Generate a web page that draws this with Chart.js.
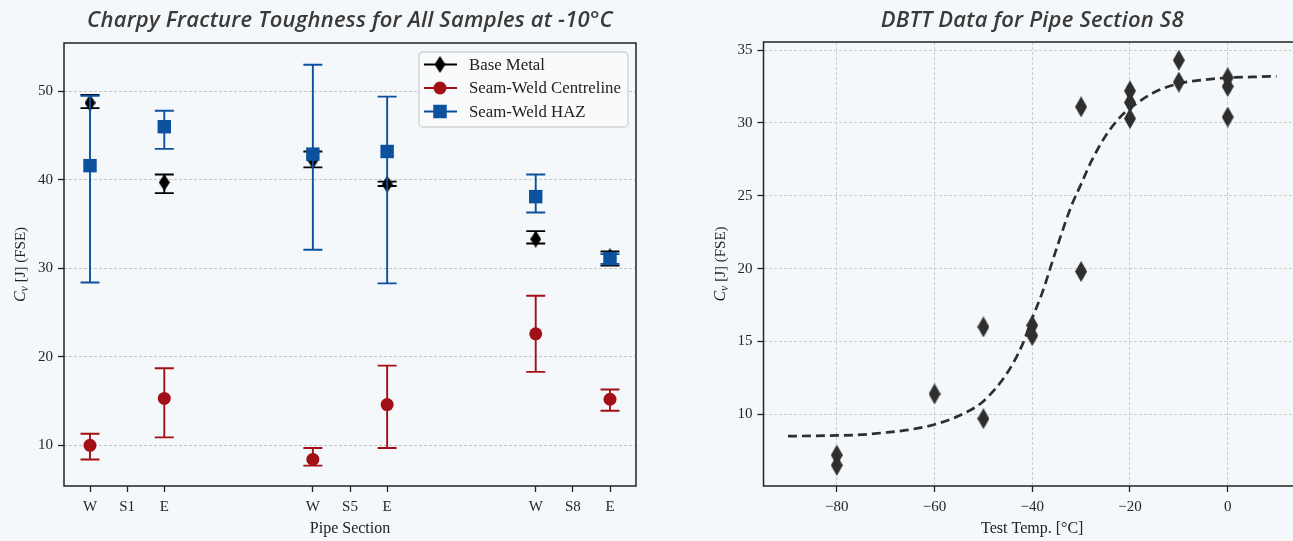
<!DOCTYPE html>
<html><head><meta charset="utf-8">
<script src="https://cdn.jsdelivr.net/npm/chart.js@4.4.0/dist/chart.umd.min.js"></script>
<style>
html,body{margin:0;padding:0;background:#f5f8fa;width:1293px;height:541px;overflow:hidden;position:relative}
#c1{position:absolute;left:0;top:0}
#c2{position:absolute;left:660px;top:0}
</style></head><body>
<canvas id="c1" width="660" height="541"></canvas>
<canvas id="c2" width="700" height="541"></canvas>
<script>
// ---------- Left chart data ----------
const sectionPositions = [0,1,2,6,7,8,12,13,14];
const sectionLabels = ['W','S1','E','W','S5','E','W','S8','E'];
const samplePositions = [0,2,6,8,12,14];
const baseMetal      = [48.7,39.7,42.2,39.5,33.3,31.3];
const baseMetalLow   = [48.1,38.5,41.4,39.3,32.8,30.3];
const baseMetalHigh  = [49.6,40.6,43.2,39.8,34.2,31.9];
const centreline     = [10.0,15.3,8.4,14.6,22.6,15.2];
const centrelineLow  = [8.4,10.9,7.7,9.7,18.3,13.9];
const centrelineHigh = [11.3,18.7,9.7,19.0,26.9,16.3];
const haz            = [41.6,46.0,42.9,43.2,38.1,31.1];
const hazLow         = [28.4,43.5,32.1,28.3,36.3,30.5];
const hazHigh        = [49.5,47.8,53.0,49.4,40.6,31.6];
const leftYTicks = [10,20,30,40,50];
const seriesNames = ['Base Metal','Seam-Weld Centreline','Seam-Weld HAZ'];

// ---------- Right chart data ----------
const testTemps = [-80,-80,-60,-50,-50,-40,-40,-30,-30,-20,-20,-20,-10,-10,0,0,0];
const cvValues  = [7.2,6.5,11.4,16.0,9.7,16.1,15.4,31.1,19.8,32.2,31.4,30.3,34.3,32.8,33.1,32.5,30.4];
const fitTemps = [-90,-85,-80,-75,-70,-65,-60,-55,-50,-45,-42,-40,-38,-35,-32,-30,-28,-25,-22,-20,-15,-10,-5,0,5,10];
const fitCv    = [8.5,8.52,8.55,8.6,8.75,8.95,9.3,9.9,10.9,12.9,14.8,16.6,18.3,21.4,24.3,25.8,27.3,29.1,30.4,31.0,32.1,32.7,32.95,33.1,33.15,33.2];
const rightXTicks = [-80,-60,-40,-20,0];
const rightYTicks = [10,15,20,25,30,35];

const RED = '#a30f17', BLUE = '#0b519d', BLACK = '#000000', DARK = '#2e2e2e';
const SERIF = '"Liberation Serif", "DejaVu Serif", serif';
const TICKFONT = {family: SERIF, size: 15};
const TICKCOLOR = '#262626';

function diamondCanvas(w, h, color) {
  const c = document.createElement('canvas');
  c.width = w; c.height = h;
  const g = c.getContext('2d');
  g.fillStyle = color;
  g.beginPath();
  g.moveTo(w/2, 0); g.lineTo(w, h/2); g.lineTo(w/2, h); g.lineTo(0, h/2);
  g.closePath(); g.fill();
  return c;
}
const dLeft = diamondCanvas(11, 17, BLACK);
const dRight = diamondCanvas(12, 21, DARK);

function pts(xs, ys) { return xs.map((x, i) => ({x: x, y: ys[i]})); }

const errorBars = {
  id: 'errorBars',
  beforeDatasetDraw(chart, args) {
    const ds = chart.data.datasets[args.index];
    if (!ds.errLow) return;
    const xs = chart.scales.x, ys = chart.scales.y, ctx = chart.ctx;
    ctx.save();
    ctx.strokeStyle = ds.borderColor; ctx.lineWidth = 1.9;
    ds.data.forEach((p, i) => {
      const x = xs.getPixelForValue(p.x);
      const yl = ys.getPixelForValue(ds.errLow[i]);
      const yh = ys.getPixelForValue(ds.errHigh[i]);
      ctx.beginPath();
      ctx.moveTo(x, yl); ctx.lineTo(x, yh);
      ctx.moveTo(x - 9.5, yl); ctx.lineTo(x + 9.5, yl);
      ctx.moveTo(x - 9.5, yh); ctx.lineTo(x + 9.5, yh);
      ctx.stroke();
    });
    ctx.restore();
  }
};

function drawYLabel(ctx, x, yc) {
  ctx.save();
  ctx.translate(x, yc);
  ctx.rotate(-Math.PI/2);
  ctx.fillStyle = '#222';
  ctx.textBaseline = 'alphabetic';
  ctx.textAlign = 'left';
  const f1 = 'italic 16px ' + SERIF, f2 = 'italic 12px ' + SERIF, f3 = '15px ' + SERIF;
  ctx.font = f1; const w1 = ctx.measureText('C').width;
  ctx.font = f2; const w2 = ctx.measureText('v').width;
  ctx.font = f3; const w3 = ctx.measureText(' [J] (FSE)').width;
  let s = -(w1 + w2 + w3)/2;
  ctx.font = f1; ctx.fillText('C', s, 5); s += w1;
  ctx.font = f2; ctx.fillText('v', s, 8); s += w2;
  ctx.font = f3; ctx.fillText(' [J] (FSE)', s, 5);
  ctx.restore();
}

const decor = {
  id: 'decor',
  afterDraw(chart, args, opts) {
    const ctx = chart.ctx, a = chart.chartArea;
    ctx.save();
    ctx.strokeStyle = '#222'; ctx.lineWidth = 1.5;
    ctx.strokeRect(a.left, a.top, a.right - a.left, a.bottom - a.top);
    ctx.fillStyle = '#3a3a3a';
    ctx.font = 'italic 600 22px "Open Sans", Lato, sans-serif';
    ctx.letterSpacing = '0.2px';
    ctx.textAlign = 'center'; ctx.textBaseline = 'middle';
    ctx.fillText(opts.title, (a.left + a.right)/2, 21);
    ctx.letterSpacing = '0px';
    ctx.fillStyle = '#222';
    ctx.font = '16px ' + SERIF;
    ctx.fillText(opts.xlabel, (a.left + a.right)/2, 529);
    ctx.restore();
    drawYLabel(ctx, opts.ylabelX, (a.top + a.bottom)/2);
    if (opts.legend) {
      ctx.save();
      const L = 419, T = 52, R = 628, B = 127;
      ctx.fillStyle = 'rgba(248,250,251,0.85)';
      ctx.strokeStyle = '#cfcfcf'; ctx.lineWidth = 1.3;
      ctx.beginPath(); ctx.roundRect(L, T, R - L, B - T, 4); ctx.fill(); ctx.stroke();
      const rows = [64.5, 88, 111.5];
      const cols = [BLACK, RED, BLUE];
      rows.forEach((y, i) => {
        ctx.strokeStyle = cols[i]; ctx.lineWidth = 2;
        ctx.beginPath(); ctx.moveTo(424, y); ctx.lineTo(457, y); ctx.stroke();
        ctx.fillStyle = cols[i];
        if (i === 0) ctx.drawImage(dLeft, 440 - 5.5, y - 8.5);
        else if (i === 1) { ctx.beginPath(); ctx.arc(440, y, 6.5, 0, Math.PI*2); ctx.fill(); }
        else ctx.fillRect(440 - 6.75, y - 6.75, 13.5, 13.5);
        ctx.fillStyle = '#222'; ctx.font = '16.8px ' + SERIF;
        ctx.textAlign = 'left'; ctx.textBaseline = 'middle';
        ctx.fillText(seriesNames[i], 469, y + 1);
      });
      ctx.restore();
    }
  }
};

Chart.defaults.font.family = SERIF;

new Chart(document.getElementById('c1'), {
  type: 'scatter',
  data: {
    datasets: [
      {label: seriesNames[0], data: pts(samplePositions, baseMetal), errLow: baseMetalLow, errHigh: baseMetalHigh,
       borderColor: BLACK, backgroundColor: BLACK, pointStyle: dLeft, order: 3},
      {label: seriesNames[1], data: pts(samplePositions, centreline), errLow: centrelineLow, errHigh: centrelineHigh,
       borderColor: RED, backgroundColor: RED, pointStyle: 'circle', pointRadius: 6.5, borderWidth: 0, order: 2},
      {label: seriesNames[2], data: pts(samplePositions, haz), errLow: hazLow, errHigh: hazHigh,
       borderColor: BLUE, backgroundColor: BLUE, pointStyle: 'rect', pointRadius: 9.5, borderWidth: 0, order: 1}
    ]
  },
  options: {
    responsive: false, animation: false, devicePixelRatio: 1,
    layout: {padding: {top: 43, right: 24, left: 0, bottom: 0}},
    plugins: {legend: {display: false}, tooltip: {enabled: false},
      decor: {title: 'Charpy Fracture Toughness for All Samples at -10°C', xlabel: 'Pipe Section', ylabelX: 20, legend: true}},
    scales: {
      x: {type: 'linear', min: -0.7, max: 14.7,
        afterFit: s => { s.height = 55; },
        afterBuildTicks: s => { s.ticks = sectionPositions.map(v => ({value: v})); },
        ticks: {callback: v => sectionLabels[sectionPositions.indexOf(v)], font: TICKFONT, color: TICKCOLOR, padding: 6, maxRotation: 0, autoSkip: false},
        grid: {display: true, drawOnChartArea: false, drawTicks: true, tickLength: 6, tickColor: '#222', tickWidth: 1.3},
        border: {display: false}},
      y: {min: 5.4, max: 55.46,
        afterFit: s => { s.width = 64; },
        afterBuildTicks: s => { s.ticks = leftYTicks.map(v => ({value: v})); },
        ticks: {font: TICKFONT, color: TICKCOLOR, padding: 5},
        grid: {color: '#bcbcbc', lineWidth: 0.9, tickLength: 6, tickColor: '#222', tickWidth: 1.3, tickBorderDash: []},
        border: {display: false, dash: [3, 2]}}
    }
  },
  plugins: [errorBars, decor]
});

new Chart(document.getElementById('c2'), {
  type: 'scatter',
  data: {
    datasets: [
      {label: 'data', data: pts(testTemps, cvValues), pointStyle: dRight, backgroundColor: DARK, borderColor: DARK, order: 1},
      {label: 'fit', type: 'line', data: pts(fitTemps, fitCv), borderColor: '#2e2e2e', borderWidth: 2.7, borderDash: [9, 5],
       pointRadius: 0, fill: false, cubicInterpolationMode: 'monotone', order: 2}
    ]
  },
  options: {
    responsive: false, animation: false, devicePixelRatio: 1,
    layout: {padding: {top: 42, right: 59, left: 0, bottom: 0}},
    plugins: {legend: {display: false}, tooltip: {enabled: false},
      decor: {title: 'DBTT Data for Pipe Section S8', xlabel: 'Test Temp. [°C]', ylabelX: 60, legend: false}},
    scales: {
      x: {type: 'linear', min: -95, max: 15,
        afterFit: s => { s.height = 55; },
        afterBuildTicks: s => { s.ticks = rightXTicks.map(v => ({value: v})); },
        ticks: {callback: v => (v < 0 ? '\u2212' + Math.abs(v) : String(v)), font: TICKFONT, color: TICKCOLOR, padding: 6, maxRotation: 0},
        grid: {color: '#c6c6c6', lineWidth: 0.9, tickLength: 6, tickColor: '#222', tickWidth: 1.3, tickBorderDash: []},
        border: {display: false, dash: [3, 2]}},
      y: {min: 5.08, max: 35.55,
        afterFit: s => { s.width = 103.5; },
        afterBuildTicks: s => { s.ticks = rightYTicks.map(v => ({value: v})); },
        ticks: {font: TICKFONT, color: TICKCOLOR, padding: 5},
        grid: {color: '#c6c6c6', lineWidth: 0.9, tickLength: 6, tickColor: '#222', tickWidth: 1.3, tickBorderDash: []},
        border: {display: false, dash: [3, 2]}}
    }
  },
  plugins: [decor]
});
</script>
</body></html>
